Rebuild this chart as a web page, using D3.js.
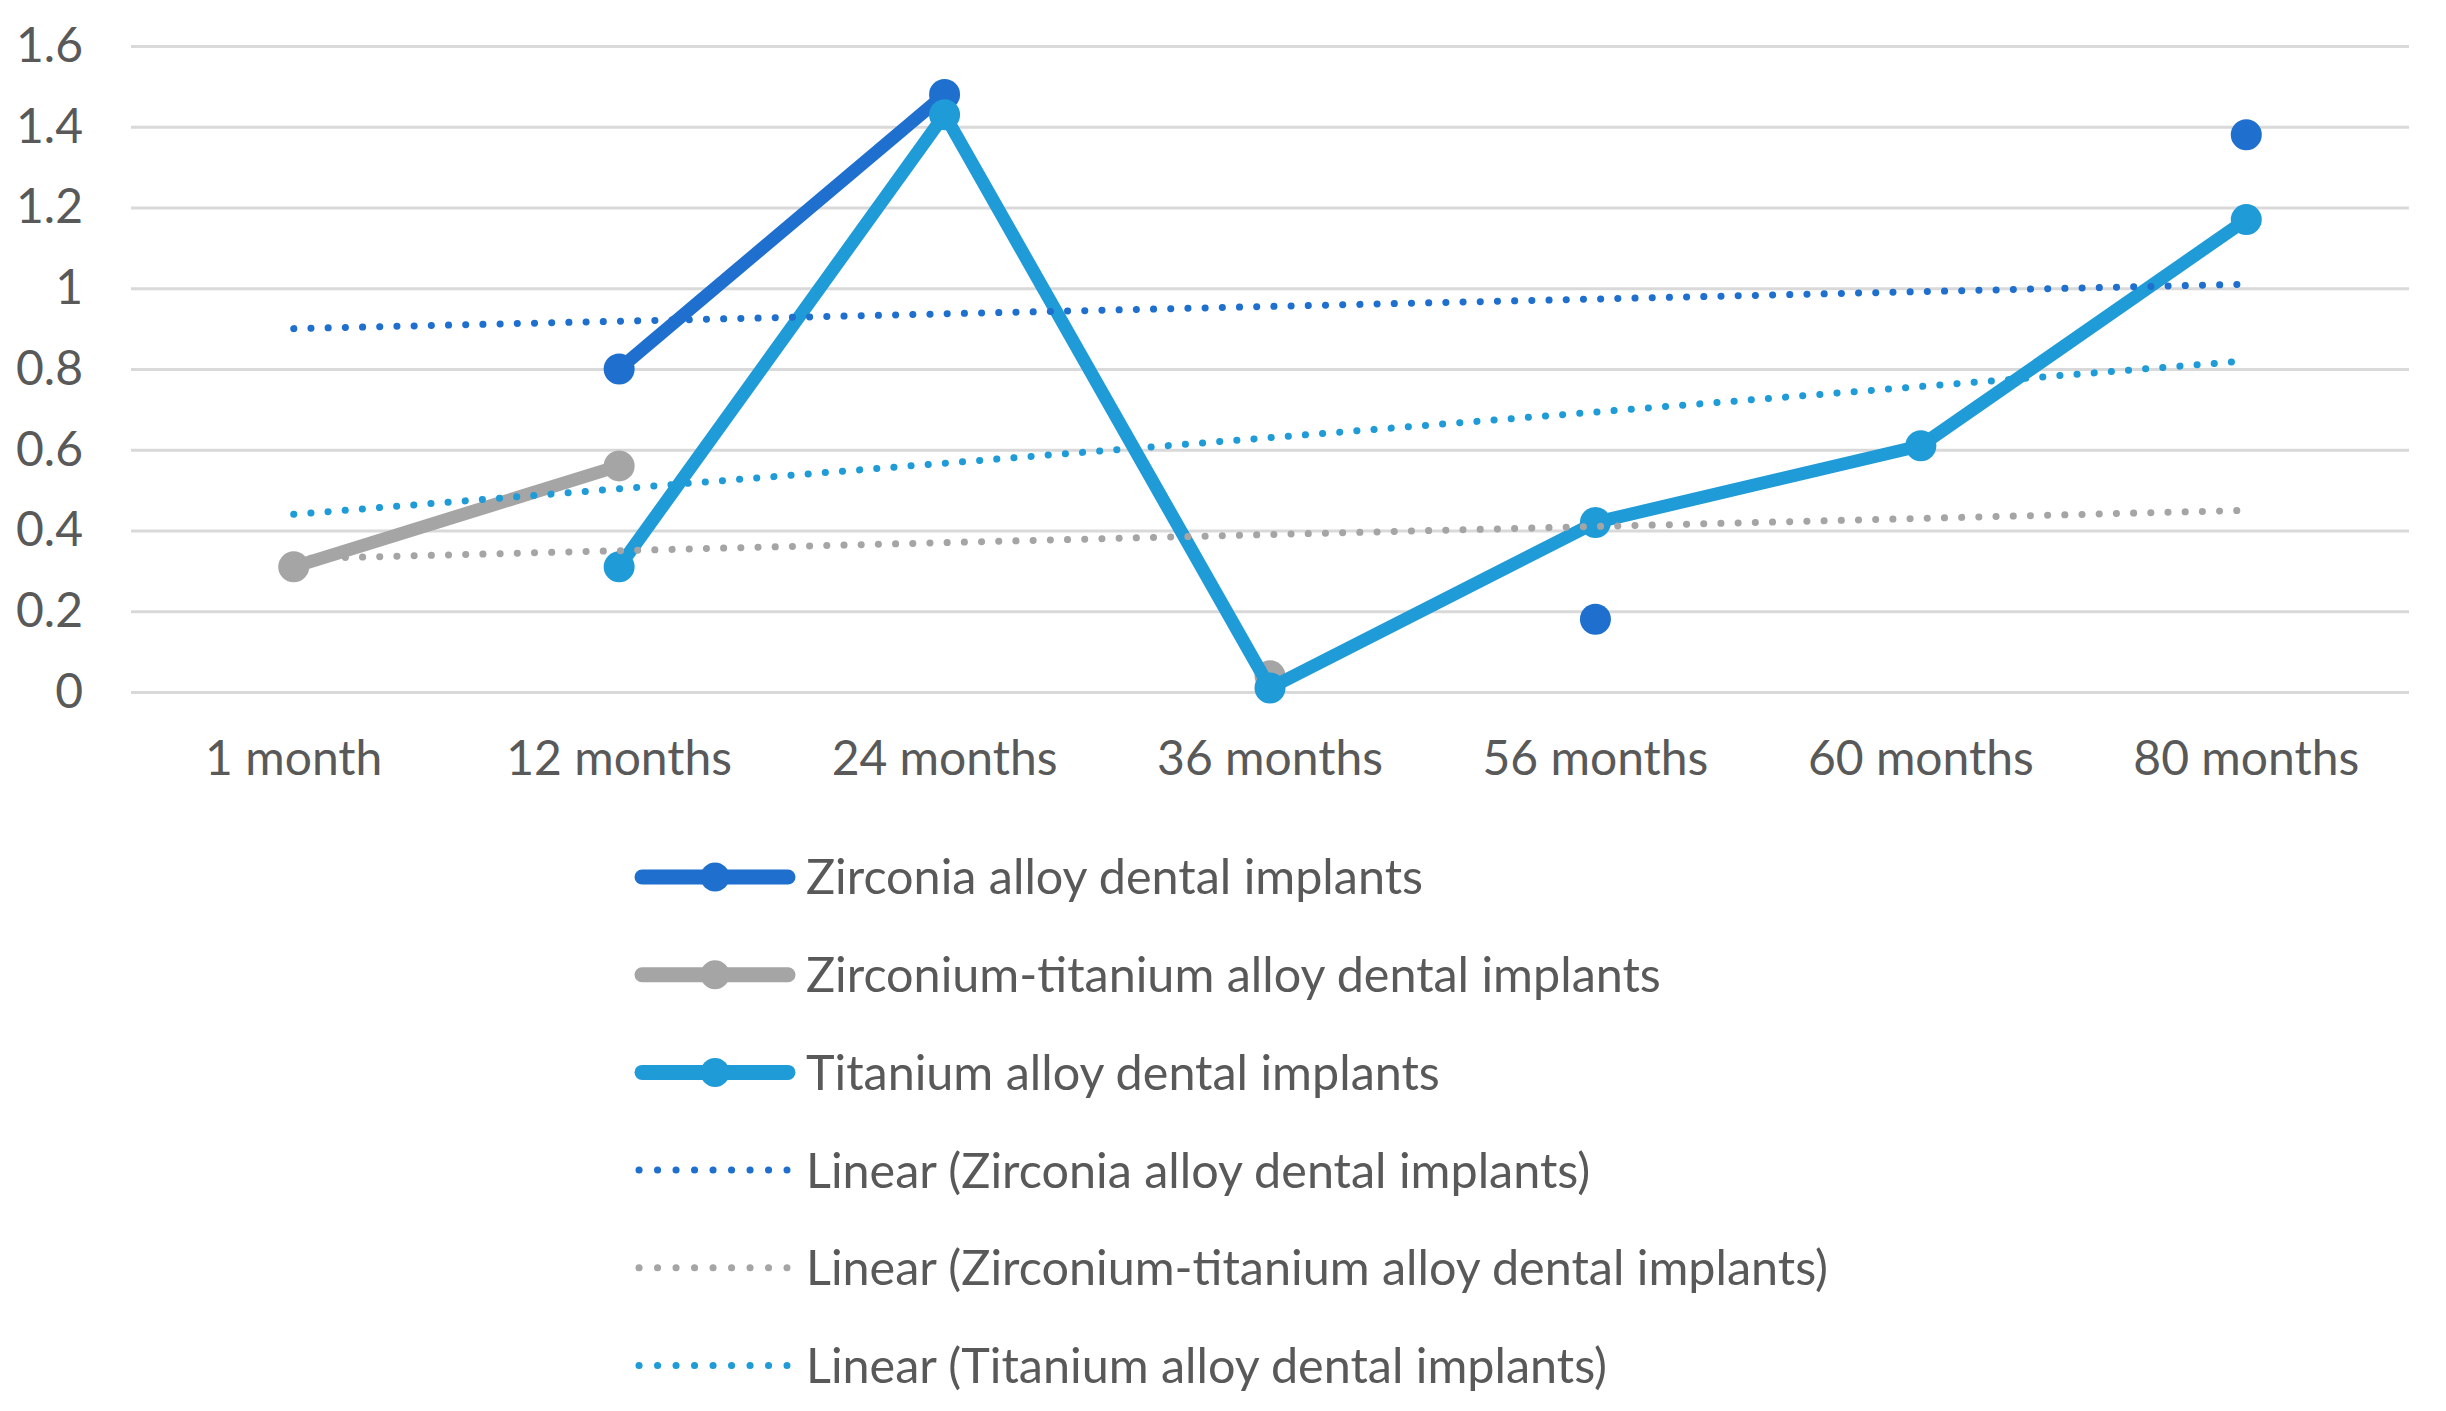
<!DOCTYPE html>
<html>
<head>
<meta charset="utf-8">
<script src="https://cdn.jsdelivr.net/npm/d3@7"></script>
<style>
  body { margin: 0; background: #fff; }
  text { font-family: Lato, 'Liberation Sans', sans-serif; fill: #595959; }
</style>
</head>
<body>
<svg></svg>
<script>
let categories = ['1 month', '12 months', '24 months', '36 months', '56 months', '60 months', '80 months']
let zirconia = [null, 0.80, 1.48, null, 0.18, null, 1.38]
let zircTitanium = [0.31, 0.56, null, 0.04, null, null, null]
let titanium = [null, 0.31, 1.43, 0.01, 0.42, 0.61, 1.17]
// trend values at first and last category
let trendZirconia = [0.90, 1.01]
let trendZircTitanium = [0.33, 0.45]
let trendTitanium = [0.44, 0.82]
let yTicks = [0, 0.2, 0.4, 0.6, 0.8, 1, 1.2, 1.4, 1.6]

let width = 2446
let height = 1411
let plotLeft = 131
let plotRight = 2409
let plotTop = 46
let plotBottom = 692

let series = [
    {name: 'Zirconia alloy dental implants', values: zirconia, color: '#1e6fce'},
    {name: 'Zirconium-titanium alloy dental implants', values: zircTitanium, color: '#a5a5a5'},
    {name: 'Titanium alloy dental implants', values: titanium, color: '#1f9bd7'}
]
let trends = [
    {name: 'Linear (Zirconia alloy dental implants)', values: trendZirconia, color: '#1e6fce'},
    {name: 'Linear (Zirconium-titanium alloy dental implants)', values: trendZircTitanium, color: '#a5a5a5'},
    {name: 'Linear (Titanium alloy dental implants)', values: trendTitanium, color: '#1f9bd7'}
]

let svg = d3.select('svg').attr('width', width).attr('height', height)

let xScale = d3.scaleBand().domain(categories).range([plotLeft, plotRight])
let yScale = d3.scaleLinear().domain([0, 1.6]).range([plotBottom, plotTop])
let cx = c => xScale(c) + xScale.bandwidth() / 2

// gridlines + y labels
let yAxis = d3.axisLeft(yScale)
              .tickValues(yTicks)
              .tickSize(-(plotRight - plotLeft))
              .tickPadding(48)
              .tickFormat(d => d)
let yg = svg.append('g')
            .attr('transform', 'translate(' + plotLeft + ', 0)')
            .call(yAxis)
yg.select('.domain').remove()
yg.selectAll('line').attr('stroke', '#d9d9d9').attr('stroke-width', 3)
yg.selectAll('text').style('font-size', '48px').attr('fill', '#595959')

let xAxis = d3.axisBottom(xScale).tickSize(0).tickPadding(49)
let xg = svg.append('g')
            .attr('transform', 'translate(0, ' + plotBottom + ')')
            .call(xAxis)
xg.select('.domain').remove()
xg.selectAll('text').style('font-size', '48px').attr('fill', '#595959')

let line = d3.line()
             .defined(d => d.v != null)
             .x(d => cx(d.c))
             .y(d => yScale(d.v))

series.forEach(s => {
    let pts = categories.map((c, i) => ({c: c, v: s.values[i]}))
    svg.append('path')
       .attr('d', line(pts))
       .attr('fill', 'none')
       .attr('stroke', s.color)
       .attr('stroke-width', 13)
       .attr('stroke-linejoin', 'round')
    svg.selectAll(null)
       .data(pts.filter(d => d.v != null))
       .enter()
       .append('circle')
       .attr('cx', d => cx(d.c))
       .attr('cy', d => yScale(d.v))
       .attr('r', 15.5)
       .attr('fill', s.color)
})

trends.forEach(t => {
    let pts = [{c: categories[0], v: t.values[0]}, {c: categories[categories.length - 1], v: t.values[1]}]
    svg.append('path')
       .attr('d', line(pts))
       .attr('fill', 'none')
       .attr('stroke', t.color)
       .attr('stroke-width', 7)
       .attr('stroke-linecap', 'round')
       .attr('stroke-dasharray', '0.1 17.1')
})

// legend
let legend = svg.append('g').attr('transform', 'translate(635, 877)')
let rowH = 97.7
let items = series.map(s => ({...s, dotted: false})).concat(trends.map(t => ({...t, dotted: true})))
items.forEach((it, i) => {
    let g = legend.append('g').attr('transform', 'translate(0, ' + (i * rowH) + ')')
    if (it.dotted) {
        g.append('line')
         .attr('x1', 4).attr('x2', 152).attr('y1', 0).attr('y2', 0)
         .attr('stroke', it.color)
         .attr('stroke-width', 7)
         .attr('stroke-linecap', 'round')
         .attr('stroke-dasharray', '0.1 18.4')
    } else {
        g.append('line')
         .attr('x1', 7).attr('x2', 153).attr('y1', 0).attr('y2', 0)
         .attr('stroke', it.color)
         .attr('stroke-width', 15)
         .attr('stroke-linecap', 'round')
        g.append('circle').attr('cx', 80).attr('cy', 0).attr('r', 14.5).attr('fill', it.color)
    }
    g.append('text')
     .attr('x', 171)
     .attr('y', 0)
     .attr('dy', '0.36em')
     .style('font-size', '48.5px')
     .text(it.name)
})
</script>
</body>
</html>
